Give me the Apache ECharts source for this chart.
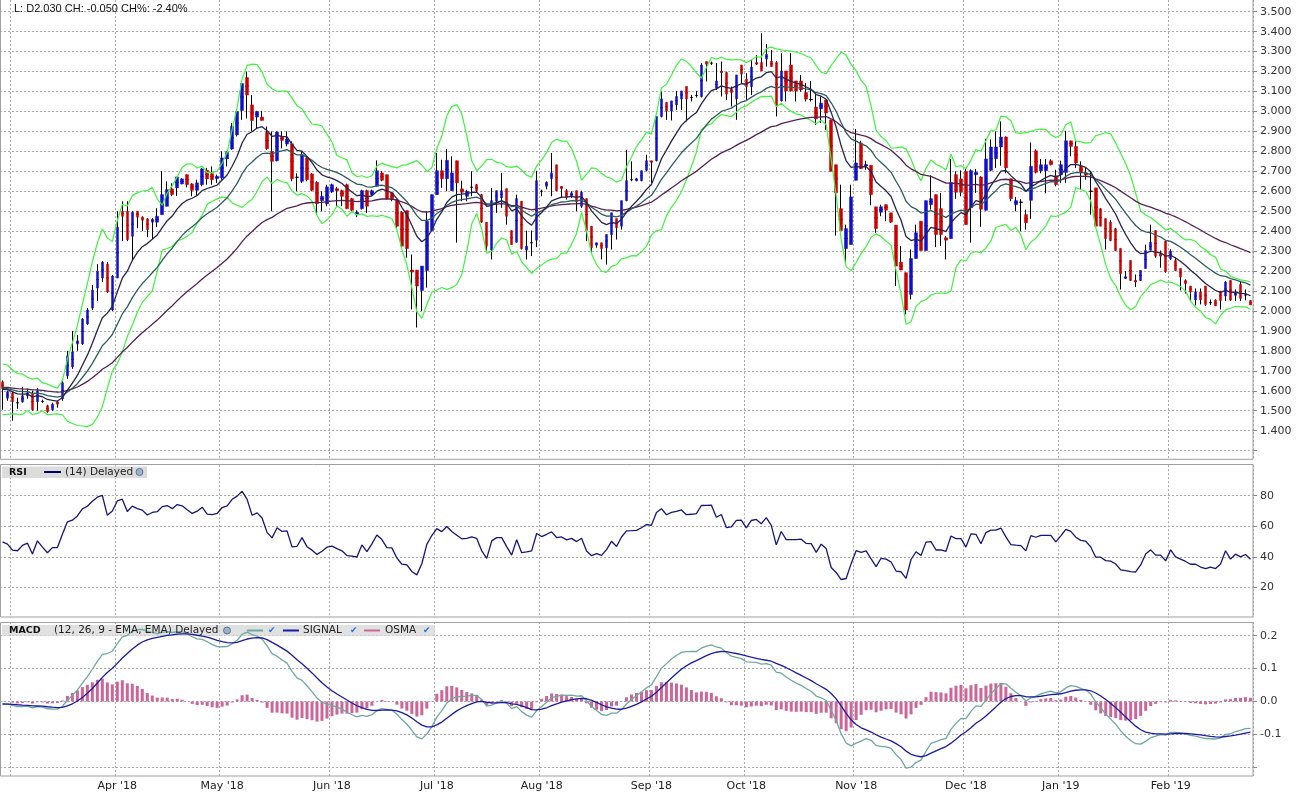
<!DOCTYPE html>
<html>
<head>
<meta charset="utf-8">
<title>Price chart</title>
<script src="https://cdn.jsdelivr.net/npm/echarts@6/dist/echarts.min.js"></script>
<style>
html, body { margin: 0; padding: 0; background: #fff; }
#chart { width: 1299px; height: 801px; }
</style>
</head>
<body>
<div id="chart"></div>
<script>
// months on the x axis and how many trading days each one has in view
var monthLabels = ["Feb '18", "Mar '18", "Apr '18", "May '18", "Jun '18", "Jul '18", "Aug '18",
                   "Sep '18", "Oct '18", "Nov '18", "Dec '18", "Jan '19", "Feb '19"];
var monthDays = [2, 21, 21, 22, 21, 21, 22, 19, 22, 22, 19, 22, 17];

// daily prices
var openP = [
  1.645,1.563,1.587,1.540,1.545,1.575,1.587,1.545,1.547,1.525,
  1.505,1.545,1.560,1.675,1.720,1.835,1.835,1.935,2.015,2.115,
  2.165,2.235,2.005,2.165,2.500,2.500,2.375,2.500,2.470,2.462,
  2.445,2.445,2.483,2.525,2.612,2.617,2.637,2.683,2.637,2.605,
  2.633,2.705,2.688,2.663,2.667,2.762,2.812,2.883,3.005,3.170,
  3.033,2.972,2.972,2.895,2.800,2.753,2.875,2.837,2.838,2.670,
  2.650,2.767,2.687,2.645,2.553,2.537,2.597,2.613,2.603,2.633,
  2.563,2.483,2.513,2.603,2.583,2.625,2.692,2.683,2.592,2.558,
  2.495,2.503,2.205,2.205,2.103,2.203,2.403,2.583,2.703,2.663,
  2.603,2.753,2.612,2.575,2.620,2.633,2.583,2.445,2.305,2.550,
  2.567,2.613,2.403,2.345,2.550,2.305,2.342,2.355,2.600,2.625,
  2.663,2.733,2.625,2.603,2.575,2.603,2.525,2.563,2.425,2.330,
  2.342,2.317,2.383,2.463,2.425,2.553,2.658,2.653,2.653,2.705,
  2.753,2.753,2.975,3.045,3.003,3.033,3.063,3.125,3.070,3.080,
  3.075,3.250,3.242,3.117,3.203,3.195,3.112,3.063,3.233,3.162,
  3.125,3.245,3.245,3.263,3.253,3.245,3.053,3.203,3.233,3.153,
  3.153,3.095,3.060,3.022,3.013,3.058,2.958,2.733,2.513,2.313,
  2.333,2.655,2.842,2.728,2.730,2.522,2.495,2.533,2.492,2.430,
  2.245,2.192,2.083,2.263,2.450,2.303,2.533,2.583,2.513,2.367,
  2.363,2.683,2.662,2.700,2.517,2.683,2.672,2.505,2.705,2.763,
  2.822,2.872,2.663,2.533,2.545,2.483,2.555,2.803,2.703,2.703,
  2.753,2.678,2.683,2.695,2.853,2.825,2.725,2.692,2.600,2.617,
  2.513,2.463,2.445,2.412,2.313,2.163,2.253,2.153,2.153,2.213,
  2.305,2.403,2.287,2.350,2.262,2.253,2.213,2.153,2.125,2.055,
  2.095,2.125,2.042,2.055,2.100,2.075,2.153,2.078,2.133,2.080,
  2.053
];
var highP = [
  1.652,1.600,1.595,1.565,1.620,1.610,1.600,1.615,1.555,1.530,
  1.540,1.550,1.660,1.800,1.900,1.880,1.965,2.015,2.130,2.235,
  2.250,2.245,2.180,2.500,2.550,2.550,2.500,2.500,2.475,2.465,
  2.465,2.515,2.700,2.650,2.640,2.670,2.665,2.685,2.640,2.658,
  2.717,2.717,2.725,2.683,2.800,2.800,2.942,3.000,3.142,3.200,
  3.083,3.003,3.003,2.925,2.900,2.900,2.900,2.900,2.850,2.690,
  2.800,2.775,2.692,2.650,2.600,2.633,2.638,2.622,2.608,2.638,
  2.567,2.505,2.608,2.608,2.608,2.755,2.700,2.683,2.595,2.558,
  2.500,2.503,2.283,2.205,2.225,2.500,2.583,2.792,2.758,2.812,
  2.775,2.753,2.653,2.608,2.700,2.637,2.587,2.445,2.617,2.603,
  2.692,2.613,2.403,2.583,2.550,2.403,2.403,2.703,2.608,2.650,
  2.792,2.733,2.625,2.612,2.600,2.603,2.603,2.563,2.425,2.342,
  2.342,2.383,2.492,2.463,2.553,2.808,2.750,2.667,2.703,2.783,
  2.753,2.975,3.100,3.045,3.053,3.103,3.103,3.125,3.083,3.103,
  3.242,3.250,3.250,3.242,3.250,3.200,3.125,3.183,3.233,3.192,
  3.258,3.283,3.392,3.337,3.308,3.253,3.292,3.203,3.292,3.153,
  3.183,3.142,3.153,3.088,3.075,3.058,2.958,2.733,2.633,2.433,
  2.633,2.912,2.853,2.753,2.730,2.522,2.533,2.533,2.492,2.430,
  2.325,2.192,2.308,2.433,2.450,2.553,2.680,2.583,2.592,2.375,
  2.762,2.700,2.705,2.717,2.710,2.712,2.675,2.863,2.860,2.900,
  2.950,2.875,2.663,2.572,2.560,2.508,2.845,2.810,2.762,2.762,
  2.760,2.708,2.753,2.903,2.853,2.853,2.750,2.717,2.700,2.617,
  2.515,2.463,2.455,2.417,2.313,2.200,2.253,2.183,2.203,2.333,
  2.433,2.403,2.303,2.350,2.310,2.267,2.213,2.158,2.125,2.113,
  2.113,2.125,2.058,2.058,2.100,2.150,2.153,2.108,2.150,2.108,
  2.053
];
var lowP = [
  1.505,1.550,1.450,1.510,1.540,1.560,1.500,1.500,1.540,1.490,
  1.500,1.515,1.550,1.660,1.710,1.800,1.830,1.930,2.005,2.050,
  2.145,2.090,2.000,2.165,2.350,2.350,2.250,2.415,2.400,2.370,
  2.360,2.420,2.483,2.525,2.575,2.577,2.635,2.620,2.575,2.575,
  2.625,2.633,2.633,2.642,2.658,2.725,2.808,2.875,2.958,2.965,
  2.900,2.917,2.955,2.808,2.500,2.750,2.815,2.825,2.650,2.600,
  2.642,2.650,2.600,2.483,2.500,2.525,2.592,2.525,2.525,2.513,
  2.500,2.470,2.508,2.492,2.575,2.625,2.650,2.558,2.550,2.417,
  2.317,2.267,2.008,1.917,2.000,2.117,2.400,2.583,2.617,2.600,
  2.603,2.342,2.550,2.550,2.575,2.592,2.442,2.300,2.258,2.492,
  2.517,2.433,2.333,2.342,2.308,2.258,2.275,2.320,2.575,2.610,
  2.575,2.600,2.567,2.558,2.567,2.500,2.517,2.350,2.292,2.317,
  2.258,2.233,2.308,2.358,2.408,2.550,2.650,2.650,2.650,2.700,
  2.642,2.750,2.970,2.958,2.955,3.008,3.008,2.950,3.050,3.070,
  3.070,3.150,3.233,3.108,3.075,3.058,3.025,2.958,3.142,3.058,
  3.083,3.233,3.203,3.225,3.225,2.975,3.050,3.050,3.100,3.050,
  3.100,3.050,3.050,2.933,2.942,2.908,2.700,2.378,2.403,2.238,
  2.333,2.655,2.712,2.708,2.530,2.392,2.475,2.450,2.442,2.125,
  2.205,1.983,2.058,2.263,2.303,2.303,2.508,2.320,2.325,2.258,
  2.363,2.562,2.575,2.433,2.342,2.592,2.422,2.503,2.700,2.717,
  2.728,2.690,2.550,2.500,2.400,2.408,2.462,2.690,2.690,2.590,
  2.730,2.625,2.642,2.642,2.775,2.717,2.608,2.658,2.483,2.425,
  2.425,2.308,2.350,2.300,2.108,2.160,2.150,2.120,2.150,2.213,
  2.305,2.267,2.217,2.192,2.255,2.200,2.103,2.087,2.050,2.028,
  2.033,2.025,2.030,2.025,2.008,2.050,2.050,2.050,2.050,2.053,
  2.030
];
var closeP = [
  1.612,1.595,1.545,1.540,1.575,1.590,1.505,1.600,1.547,1.495,
  1.533,1.533,1.640,1.775,1.795,1.850,1.960,2.005,2.105,2.200,
  2.245,2.095,2.175,2.420,2.475,2.358,2.495,2.470,2.455,2.408,
  2.460,2.475,2.583,2.608,2.583,2.672,2.662,2.633,2.605,2.642,
  2.712,2.662,2.658,2.675,2.767,2.795,2.925,3.000,3.140,3.083,
  2.955,3.000,2.955,2.813,2.750,2.897,2.855,2.862,2.663,2.670,
  2.783,2.658,2.605,2.538,2.575,2.622,2.633,2.603,2.575,2.513,
  2.505,2.495,2.603,2.525,2.603,2.703,2.655,2.562,2.558,2.425,
  2.325,2.313,2.195,2.125,2.225,2.450,2.583,2.703,2.663,2.755,
  2.692,2.642,2.595,2.600,2.620,2.603,2.445,2.325,2.553,2.603,
  2.603,2.475,2.333,2.563,2.313,2.325,2.342,2.653,2.600,2.645,
  2.692,2.603,2.613,2.570,2.592,2.547,2.595,2.403,2.317,2.342,
  2.313,2.383,2.492,2.417,2.553,2.653,2.658,2.663,2.703,2.753,
  2.745,2.975,3.063,3.003,3.053,3.075,3.103,3.063,3.070,3.080,
  3.233,3.237,3.242,3.153,3.195,3.087,3.095,3.183,3.187,3.125,
  3.222,3.237,3.203,3.287,3.225,3.028,3.203,3.103,3.103,3.103,
  3.108,3.062,3.060,2.963,3.042,2.992,2.700,2.592,2.403,2.413,
  2.572,2.742,2.713,2.733,2.583,2.413,2.522,2.505,2.445,2.225,
  2.205,2.005,2.263,2.392,2.303,2.553,2.563,2.383,2.383,2.355,
  2.645,2.595,2.595,2.433,2.703,2.695,2.510,2.762,2.822,2.822,
  2.872,2.717,2.563,2.553,2.545,2.442,2.725,2.695,2.733,2.733,
  2.733,2.633,2.733,2.853,2.825,2.742,2.695,2.683,2.600,2.425,
  2.425,2.363,2.353,2.303,2.187,2.172,2.153,2.145,2.203,2.303,
  2.345,2.275,2.275,2.197,2.300,2.203,2.170,2.137,2.095,2.095,
  2.055,2.033,2.042,2.025,2.053,2.145,2.055,2.092,2.063,2.080,
  2.030
];
// closes before the first visible day (estimated from where the indicators start),
// only used to seed the moving averages, RSI and MACD
var priorClose = [
  1.59,1.63,1.61,1.57,1.60,1.64,1.62,1.58,1.61,1.65,
  1.63,1.59,1.62,1.66,1.64,1.60,1.57,1.61,1.65,1.63,
  1.59,1.62,1.66,1.68,1.64,1.60,1.63,1.67,1.65,1.61,
  1.58,1.62,1.66,1.64,1.60,1.63,1.67,1.69,1.65,1.61,
  1.64,1.68,1.66,1.62,1.59,1.63,1.67,1.65,1.60,1.56,
  1.58,1.65,1.70,1.66,1.57,1.49,1.52,1.60,1.67,1.62
];

var categories = [];
var monthStart = {};
monthDays.forEach(function (cnt, m) {
  if (m > 0) monthStart[categories.length] = (m === 1 ? '' : monthLabels[m]);
  for (var d = 1; d <= cnt; d++) categories.push(monthLabels[m] + '|' + d);
});
function isMonthStart(idx) { return monthStart.hasOwnProperty(idx); }

// indicators
function ema(src, n) {
  var k = 2 / (n + 1), out = [src[0]];
  for (var i = 1; i < src.length; i++) out.push(src[i] * k + out[i - 1] * (1 - k));
  return out;
}
var all = priorClose.concat(closeP);
var off = priorClose.length;
var ema10 = ema(all, 10), ema20 = ema(all, 20), ema50 = ema(all, 50);
var bandUp = [], bandDn = [];
for (var i = 0; i < all.length; i++) {
  var s = Math.max(0, i - 9), w = all.slice(s, i + 1), m = 0, v = 0;
  w.forEach(function (x) { m += x; }); m /= w.length;
  w.forEach(function (x) { v += (x - m) * (x - m); }); v = Math.sqrt(v / w.length);
  bandUp.push(ema10[i] + 2 * v); bandDn.push(ema10[i] - 2 * v);
}
var rsi = [50], ag = 0, al = 0;
for (var i = 1; i < all.length; i++) {
  var ch = all[i] - all[i - 1], g = ch > 0 ? ch : 0, l = ch < 0 ? -ch : 0;
  if (i <= 14) { ag += g / 14; al += l / 14; }
  else { ag = (ag * 13 + g) / 14; al = (al * 13 + l) / 14; }
  rsi.push(al === 0 ? 100 : 100 - 100 / (1 + ag / al));
}
var e12 = ema(all, 12), e26 = ema(all, 26);
var macd = e12.map(function (x, i) { return x - e26[i]; });
var signal = ema(macd, 9);
var osma = macd.map(function (x, i) { return x - signal[i]; });
function vis(a) { return a.slice(off).map(function (x) { return +x.toFixed(4); }); }

var wickData = [], bodyData = [];
for (var i = 0; i < closeP.length; i++) {
  var mid = (openP[i] + closeP[i]) / 2;
  wickData.push([mid, mid, lowP[i], highP[i]]);
  if (Math.abs(openP[i] - closeP[i]) < 0.0015) bodyData.push('-');
  else bodyData.push([openP[i], closeP[i], Math.min(openP[i], closeP[i]), Math.max(openP[i], closeP[i])]);
}

var FONT = '"DejaVu Sans", Verdana, sans-serif';
var gridLine = { color: '#ababab', type: [2, 2], width: 1 };

function xAxisFor(g, withLabels) {
  return {
    type: 'category', gridIndex: g, data: categories, boundaryGap: true,
    axisLine: { show: false }, axisTick: { show: false },
    axisLabel: {
      show: withLabels, interval: function (idx) { return isMonthStart(idx); },
      formatter: function (val, idx) { return monthStart[idx] || ''; },
      margin: 5, color: '#222', fontSize: 11, fontFamily: FONT
    },
    splitLine: { show: true, interval: function (idx) { return isMonthStart(idx); }, lineStyle: gridLine }
  };
}
function yAxisFor(g, opt) {
  return Object.assign({
    type: 'value', gridIndex: g, position: 'right', scale: true,
    axisLine: { show: false },
    axisTick: { show: true, length: 4, lineStyle: { color: '#888' } },
    splitLine: { show: true, showMinLine: false, showMaxLine: false, lineStyle: gridLine },
    axisLabel: { margin: 7, color: '#333', fontSize: 11, fontFamily: FONT, showMinLabel: false, showMaxLabel: false }
  }, opt);
}

var chart = echarts.init(document.getElementById('chart'));
var yMain = yAxisFor(0, { min: 1.2566, max: 3.5587, minInterval: 0.1, maxInterval: 0.1, splitNumber: 20 });
yMain.axisLabel.formatter = function (v) { return (v < 1.35 || v > 3.55) ? '' : v.toFixed(3); };
var yRsi = yAxisFor(1, { min: 0, max: 100, interval: 20 });
yRsi.axisLabel.formatter = function (v) { return (v <= 0 || v >= 100) ? '' : String(v); };
var yMacd = yAxisFor(2, { min: -0.2264, max: 0.2416, minInterval: 0.1, maxInterval: 0.1, splitNumber: 4 });
yMacd.axisLabel.formatter = function (v) { return (v < -0.15 || v > 0.23) ? '' : v.toFixed(1); };

function line(name, data, color, width, xi, z) {
  return { name: name, type: 'line', xAxisIndex: xi, yAxisIndex: xi, data: data, symbol: 'none',
           lineStyle: { color: color, width: width }, z: z || 3, silent: true };
}
function check(x) {
  return { type: 'text', x: x, y: 630.5, z: 5,
           style: { text: '\u2714', font: '9px ' + FONT, fill: '#1a6fe0', verticalAlign: 'middle' } };
}

chart.setOption({
  animation: false,
  backgroundColor: '#fff',
  grid: [
    { left: 0, top: 0, width: 1253, height: 459.3 },
    { left: 0, top: 465.2, width: 1253, height: 152.6 },
    { left: 0, top: 622, width: 1253, height: 154 }
  ],
  xAxis: [xAxisFor(0, false), xAxisFor(1, false), xAxisFor(2, true)],
  yAxis: [yMain, yRsi, yMacd],
  series: [
    { name: 'wick', type: 'candlestick', xAxisIndex: 0, yAxisIndex: 0, data: wickData, barWidth: 3, z: 2,
      itemStyle: { color: '#000', color0: '#000', borderColor: '#000', borderColor0: '#000', borderColorDoji: '#000', borderWidth: 1 } },
    { name: 'body', type: 'candlestick', xAxisIndex: 0, yAxisIndex: 0, data: bodyData, barWidth: 3, z: 2,
      itemStyle: { color: '#1010cc', color0: '#cc0000', borderColor: '#1010cc', borderColor0: '#cc0000', borderWidth: 0.5 } },
    line('upper', vis(bandUp), '#3df53d', 1.2, 0),
    line('lower', vis(bandDn), '#3df53d', 1.2, 0),
    line('ema50', vis(ema50), '#552255', 1.3, 0),
    line('ema20', vis(ema20), '#2e5c5c', 1.3, 0),
    line('ema10', vis(ema10), '#24244e', 1.3, 0),
    line('RSI', vis(rsi), '#16167a', 1.3, 1),
    { name: 'OSMA', type: 'bar', xAxisIndex: 2, yAxisIndex: 2, data: vis(osma), barWidth: 3,
      itemStyle: { color: '#cc6699' }, z: 2, silent: true },
    line('MACD', vis(macd), '#6fa8a0', 1.3, 2),
    line('SIGNAL', vis(signal), '#1a1aa6', 1.3, 2, 4)
  ],
  graphic: [
    { type: 'rect', z: 10, shape: { x: 0.5, y: -2, width: 1252.5, height: 461.3 }, style: { fill: 'none', stroke: '#a0a0a0', lineWidth: 1 } },
    { type: 'rect', z: 10, shape: { x: 0.5, y: 464.5, width: 1252.5, height: 152.5 }, style: { fill: 'none', stroke: '#a0a0a0', lineWidth: 1 } },
    { type: 'rect', z: 10, shape: { x: 0.5, y: 622.5, width: 1252.5, height: 153.5 }, style: { fill: 'none', stroke: '#a0a0a0', lineWidth: 1 } },
    { type: 'text', x: 14, y: 9, z: 10,
      style: { text: 'L: D2.030 CH: -0.050 CH%: -2.40%', font: '11px "Liberation Sans", Arial, sans-serif', fill: '#111', verticalAlign: 'middle' } },
    // RSI header
    { type: 'rect', z: 1, shape: { x: 2, y: 466.5, width: 145, height: 11.5 }, style: { fill: '#dcdcdc' } },
    { type: 'text', x: 9, y: 472.3, z: 5, style: { text: 'RSI', font: 'bold 9.5px ' + FONT, fill: '#111', verticalAlign: 'middle' } },
    { type: 'line', z: 5, shape: { x1: 44, y1: 472, x2: 61, y2: 472 }, style: { stroke: '#000060', lineWidth: 2 } },
    { type: 'text', x: 65, y: 472.3, z: 5, style: { text: '(14) Delayed', font: '10.5px ' + FONT, fill: '#222', verticalAlign: 'middle' } },
    { type: 'circle', z: 5, shape: { cx: 139.5, cy: 472, r: 3.5 }, style: { fill: '#9cb2cc', stroke: '#5a7494', lineWidth: 1 } },
    // MACD header
    { type: 'rect', z: 1, shape: { x: 2, y: 625, width: 433, height: 11 }, style: { fill: 'rgba(215,215,215,0.75)' } },
    { type: 'text', x: 9, y: 630.5, z: 5, style: { text: 'MACD', font: 'bold 9.5px ' + FONT, fill: '#111', verticalAlign: 'middle' } },
    { type: 'text', x: 54, y: 630.5, z: 5, style: { text: '(12, 26, 9 - EMA, EMA) Delayed', font: '10.5px ' + FONT, fill: '#222', verticalAlign: 'middle' } },
    { type: 'circle', z: 5, shape: { cx: 227, cy: 630.5, r: 3.5 }, style: { fill: '#9cb2cc', stroke: '#5a7494', lineWidth: 1 } },
    { type: 'line', z: 5, shape: { x1: 247, y1: 630.5, x2: 263, y2: 630.5 }, style: { stroke: '#6fa8a0', lineWidth: 2 } },
    check(268),
    { type: 'line', z: 5, shape: { x1: 283, y1: 630.5, x2: 299, y2: 630.5 }, style: { stroke: '#1a1aa6', lineWidth: 2 } },
    { type: 'text', x: 303, y: 630.5, z: 5, style: { text: 'SIGNAL', font: '10.5px ' + FONT, fill: '#222', verticalAlign: 'middle' } },
    check(350),
    { type: 'line', z: 5, shape: { x1: 364, y1: 630.5, x2: 380, y2: 630.5 }, style: { stroke: '#cc6699', lineWidth: 2 } },
    { type: 'text', x: 385, y: 630.5, z: 5, style: { text: 'OSMA', font: '10.5px ' + FONT, fill: '#222', verticalAlign: 'middle' } },
    check(423)
  ]
});
</script>
</body>
</html>
